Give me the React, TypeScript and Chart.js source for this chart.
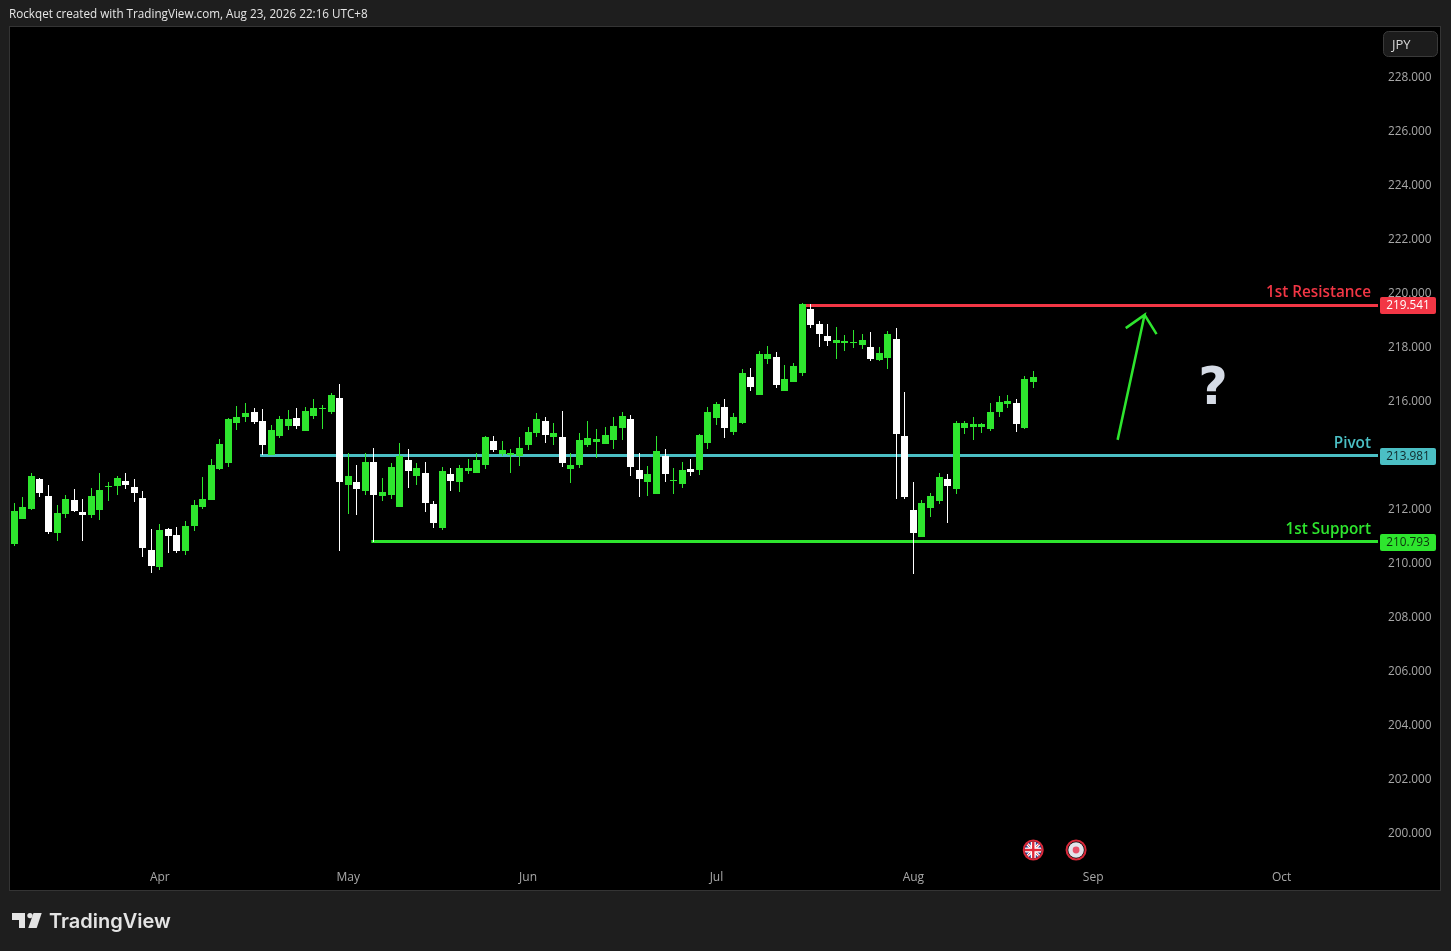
import React, { useEffect, useRef } from "react";
import { Chart, registerables } from "chart.js";

Chart.register(...registerables);

const opens = [210.71,211.63,212.00,213.11,212.48,211.11,211.82,212.34,211.89,211.78,211.97,212.82,212.85,213.04,212.82,212.41,210.48,209.85,211.26,211.04,210.45,211.37,212.07,212.34,213.48,213.71,215.19,215.41,215.60,215.26,214.00,214.71,215.08,215.37,214.89,215.45,215.71,215.60,216.11,
212.89,213.00,212.67,213.74,212.48,212.52,212.07,213.82,213.22,213.34,212.19,211.30,213.30,213.00,213.41,213.34,213.63,214.52,214.04,214.00,213.96,214.37,214.82,215.26,214.67,214.67,213.48,213.63,214.37,214.48,214.41,214.56,215.00,215.34,213.45,213.00,212.56,213.96,
213.04,212.93,213.49,213.45,214.45,215.37,215.78,214.86,215.19,216.89,216.23,217.56,217.63,216.37,216.71,217.04,219.41,218.86,218.41,218.15,218.15,218.15,218.08,218.00,217.52,217.60,218.30,
214.71,211.96,210.96,212.04,212.30,213.11,212.74,215.00,215.04,215.04,214.96,215.59,215.89,215.93,215.00,216.70];
const highs = [212.22,212.45,213.34,213.15,212.89,212.15,212.52,212.74,212.37,212.78,213.34,213.00,213.22,213.34,213.11,212.67,211.26,211.45,211.30,211.34,211.56,212.34,213.19,213.85,214.59,215.37,215.82,215.93,215.74,215.71,215.11,215.45,215.67,215.74,215.78,216.08,215.85,216.30,216.63,
214.08,213.63,214.08,214.26,213.15,213.71,214.45,214.22,213.71,213.74,212.30,213.56,213.52,213.63,213.85,214.08,214.71,214.71,214.52,214.22,214.67,215.04,215.56,215.41,215.19,215.63,214.08,214.82,215.26,214.96,215.04,215.41,215.60,215.48,214.08,213.59,214.71,214.22,
213.52,213.74,213.86,214.78,215.78,215.97,216.08,215.56,217.19,217.23,217.86,218.04,217.82,217.34,217.41,219.63,219.60,218.97,218.86,218.74,218.45,218.63,218.49,218.56,218.00,218.60,218.71,
216.33,213.00,212.33,212.59,213.33,213.30,215.26,215.26,215.41,215.19,215.93,216.19,216.22,216.08,216.93,217.11];
const lows = [210.64,211.63,211.97,212.45,211.08,210.82,211.67,211.89,210.82,211.67,211.59,212.30,212.52,212.74,212.26,210.22,209.63,209.74,210.37,210.37,210.30,211.19,212.00,212.34,213.45,213.56,214.93,215.22,215.15,214.00,214.00,214.63,214.93,214.96,214.89,215.34,214.96,215.52,210.45,
211.82,211.78,212.52,210.78,212.30,212.37,212.07,212.78,212.89,211.89,211.30,211.22,212.67,212.63,213.30,213.34,213.48,214.11,213.96,213.34,213.59,214.19,214.67,214.45,214.37,213.56,212.96,213.52,214.30,213.89,214.41,214.22,214.56,213.22,212.45,212.48,212.56,213.00,
212.56,212.78,213.23,213.26,214.23,215.11,214.63,214.74,215.15,216.37,216.23,217.37,216.49,216.37,216.71,216.93,218.71,218.00,218.04,217.56,217.86,217.97,217.93,217.49,217.49,217.19,212.37,
212.37,209.59,210.96,211.70,212.19,211.48,212.56,214.78,214.56,214.82,214.89,215.41,215.74,214.85,214.96,216.48];
const closes = [211.93,212.07,213.22,212.60,211.15,211.85,212.37,211.93,211.78,212.48,212.71,212.85,213.15,212.89,212.60,210.56,209.89,211.22,211.00,210.45,211.37,212.15,212.37,213.63,214.41,215.34,215.41,215.56,215.22,214.37,214.93,215.34,215.34,215.08,215.63,215.74,215.74,216.22,213.00,
213.22,212.74,213.74,212.52,212.63,213.56,213.96,213.41,213.52,212.22,211.48,213.41,213.04,213.52,213.52,213.82,214.67,214.19,214.19,214.08,214.26,214.85,215.34,214.74,214.82,213.71,213.63,214.56,214.63,214.59,214.74,215.08,215.45,213.56,213.11,213.30,214.15,213.30,
213.08,213.45,213.37,214.74,215.60,215.89,215.00,215.41,217.04,216.52,217.74,217.74,216.60,216.82,217.30,219.60,218.82,218.49,218.23,218.26,218.23,218.19,218.26,217.56,217.78,218.49,214.78,
212.45,211.11,212.22,212.48,213.19,212.85,215.19,215.19,215.15,215.15,215.59,215.96,216.00,215.15,216.82,216.89];

const yTicks = [200,202,204,206,208,210,212,214,216,218,220,222,224,226,228];
const monthNames = ["Apr","May","Jun","Jul","Aug","Sep","Oct"];
const monthBars = [17,39,60,82,105,126,148];

const X_MIN = -0.5, X_MAX = 159.26, Y_MIN = 198.852, Y_MAX = 229.852;

const levelNames = ["1st Resistance","Pivot","1st Support"];
const levelPrices = [219.541,213.981,210.793];
const levelStarts = [92.1,28.7,41.7];
const levelColors = ["#f23645","#4bbfc4","#2ee52e"];
const levelTagText = ["#ffffff","#10282a","#0c300c"];

const arrowBars = [128.85,132.0,129.8,132.0,133.4];
const arrowPrices = [214.56,219.19,218.70,219.19,218.48];
const questionBar = 140, questionPrice = 216.37;
const eventBars = [119,124];
const eventPrice = 199.37;

const GREEN = "#2ee52e", WHITE = "#ffffff";
const UI = '"Open Sans", "Liberation Sans", sans-serif';
const bars = opens.map((_, i) => i);
const candleColors = opens.map((o, i) => (closes[i] >= o ? GREEN : WHITE));

function roundRect(c: CanvasRenderingContext2D, x: number, y: number, w: number, h: number, r: number) {
  c.beginPath();
  c.roundRect(x, y, w, h, r);
}

function drawUK(c: CanvasRenderingContext2D, x: number, y: number) {
  const r = 8.5;
  c.save();
  c.beginPath(); c.arc(x, y, r, 0, Math.PI * 2); c.clip();
  c.fillStyle = "#2a3f8f"; c.fillRect(x - r, y - r, 2 * r, 2 * r);
  c.strokeStyle = "#ffffff"; c.lineWidth = 3;
  c.beginPath(); c.moveTo(x - r, y - r); c.lineTo(x + r, y + r); c.moveTo(x + r, y - r); c.lineTo(x - r, y + r); c.stroke();
  c.strokeStyle = "#e0283a"; c.lineWidth = 1;
  c.beginPath(); c.moveTo(x - r, y - r); c.lineTo(x + r, y + r); c.moveTo(x + r, y - r); c.lineTo(x - r, y + r); c.stroke();
  c.fillStyle = "#ffffff"; c.fillRect(x - r, y - 2.5, 2 * r, 5); c.fillRect(x - 2.5, y - r, 5, 2 * r);
  c.fillStyle = "#e0283a"; c.fillRect(x - r, y - 1.2, 2 * r, 2.4); c.fillRect(x - 1.2, y - r, 2.4, 2 * r);
  c.restore();
  c.strokeStyle = "#d8283a"; c.lineWidth = 2;
  c.beginPath(); c.arc(x, y, 9.5, 0, Math.PI * 2); c.stroke();
}

function drawJP(c: CanvasRenderingContext2D, x: number, y: number) {
  c.fillStyle = "#e2e2ea";
  c.beginPath(); c.arc(x, y, 7.8, 0, Math.PI * 2); c.fill();
  c.fillStyle = "#e8506a";
  c.beginPath(); c.arc(x, y, 3.4, 0, Math.PI * 2); c.fill();
  c.strokeStyle = "#d8283a"; c.lineWidth = 2;
  c.beginPath(); c.arc(x, y, 9.5, 0, Math.PI * 2); c.stroke();
}

const snapPlugin = {
  id: "snap",
  afterDatasetsUpdate(chart: any) {
    [0, 1].forEach((d) => {
      chart.getDatasetMeta(d).data.forEach((el: any) => {
        el.x = Math.floor(el.x) + 0.5;
        const top = Math.round(Math.min(el.y, el.base));
        let bot = Math.round(Math.max(el.y, el.base));
        if (bot - top < 1) bot = top + 1;
        el.y = top; el.base = bot; el.height = bot - top;
      });
    });
  },
};

const framePlugin = {
  id: "frame",
  beforeDraw(chart: any) {
    const c: CanvasRenderingContext2D = chart.ctx;
    c.save();
    c.fillStyle = "#1e1e1e";
    c.fillRect(0, 0, chart.width, chart.height);
    c.fillStyle = "#000000";
    c.fillRect(10, 27, 1430, 863);
    c.strokeStyle = "#343434"; c.lineWidth = 1;
    c.strokeRect(9.5, 26.5, 1431, 864);

    c.textBaseline = "alphabetic"; c.textAlign = "left";
    c.fillStyle = "#e6e6e6";
    c.font = `11.7px ${UI}`;
    c.fillText("Rockqet created with TradingView.com, Aug 23, 2026 22:16 UTC+8", 9, 18);

    c.fillStyle = "#e4e4e4";
    c.beginPath();
    c.moveTo(12, 913); c.lineTo(25, 913); c.lineTo(25, 928); c.lineTo(19, 928); c.lineTo(19, 920); c.lineTo(12, 920);
    c.closePath(); c.fill();
    c.beginPath(); c.arc(30, 915.6, 2.7, 0, Math.PI * 2); c.fill();
    c.beginPath();
    c.moveTo(33.5, 913); c.lineTo(41.7, 913); c.lineTo(36.7, 928); c.lineTo(28.3, 928);
    c.closePath(); c.fill();
    c.font = '600 20px Inter, sans-serif';
    c.fillText("TradingView", 49, 928);
    c.restore();
  },
  afterDraw(chart: any) {
    const c: CanvasRenderingContext2D = chart.ctx;
    const x = chart.scales.x, y = chart.scales.y;
    c.save();
    levelNames.forEach((name, i) => {
      const py = y.getPixelForValue(levelPrices[i]);
      c.fillStyle = levelColors[i];
      c.font = `600 15.3px ${UI}`;
      c.textAlign = "right"; c.textBaseline = "alphabetic";
      c.fillText(name, 1371, py - 8);
      c.fillStyle = levelColors[i];
      roundRect(c, 1380, Math.round(py) - 8, 56, 17, 2);
      c.fill();
      c.fillStyle = levelTagText[i];
      c.font = `11.8px ${UI}`;
      c.textAlign = "center"; c.textBaseline = "middle";
      c.fillText(levelPrices[i].toFixed(3), 1408, Math.round(py) + 1);
    });

    c.fillStyle = "#d5dbe5";
    c.font = 'bold 51px "DejaVu Sans", sans-serif';
    c.textAlign = "center"; c.textBaseline = "middle";
    c.fillText("?", x.getPixelForValue(questionBar), y.getPixelForValue(questionPrice));

    const ey = y.getPixelForValue(eventPrice);
    drawUK(c, x.getPixelForValue(eventBars[0]), ey);
    drawJP(c, x.getPixelForValue(eventBars[1]), ey);

    c.strokeStyle = "#3a3a3a"; c.lineWidth = 1; c.fillStyle = "#1c1c1c";
    roundRect(c, 1383.5, 31.5, 54, 25, 5);
    c.fill(); c.stroke();
    c.fillStyle = "#d8d8d8";
    c.font = `13px ${UI}`;
    c.textAlign = "left"; c.textBaseline = "middle";
    c.fillText("JPY", 1392, 45);
    c.restore();
  },
};

export default function App() {
  const ref = useRef<HTMLCanvasElement>(null);
  useEffect(() => {
    document.body.style.margin = "0";
    document.body.style.background = "#1e1e1e";
    const levelSets = levelNames.map((name, i) => ({
      type: "line" as const,
      label: name,
      data: [{ x: levelStarts[i], y: levelPrices[i] }, { x: X_MAX, y: levelPrices[i] }],
      borderColor: levelColors[i],
      borderWidth: 3,
      pointRadius: 0,
      order: 3,
    }));
    const chart = new Chart(ref.current!, {
      type: "bar",
      data: {
        datasets: [
          {
            label: "body",
            data: bars.map((i) => ({ x: i, y: [opens[i], closes[i]] })),
            backgroundColor: candleColors,
            barThickness: 7,
            inflateAmount: 0,
            grouped: false,
            order: 1,
          },
          {
            label: "wick",
            data: bars.map((i) => ({ x: i, y: [lows[i], highs[i]] })),
            backgroundColor: candleColors,
            barThickness: 1,
            inflateAmount: 0,
            grouped: false,
            order: 2,
          },
          ...levelSets,
          {
            type: "line" as const,
            label: "arrow",
            data: arrowBars.map((b, i) => ({ x: b, y: arrowPrices[i] })),
            borderColor: GREEN,
            borderWidth: 2.5,
            pointRadius: 0,
            order: 3,
          },
        ] as any,
      },
      options: {
        animation: false,
        responsive: false,
        devicePixelRatio: 1,
        layout: { padding: { top: 27, left: 10, right: 11, bottom: 61 } },
        plugins: { legend: { display: false }, tooltip: { enabled: false }, title: { display: false } },
        scales: {
          x: {
            type: "linear",
            offset: false,
            min: X_MIN,
            max: X_MAX,
            grid: { display: false, drawTicks: false },
            border: { display: false },
            afterBuildTicks: (s: any) => { s.ticks = monthBars.map((v) => ({ value: v })); },
            afterFit: (s: any) => { s.height = 26; },
            ticks: {
              autoSkip: false,
              maxRotation: 0,
              color: "#a8a8a8",
              padding: 6,
              font: { size: 12, family: UI },
              callback: (v: any) => monthNames[monthBars.indexOf(Number(v))] ?? "",
            },
          },
          y: {
            type: "linear",
            position: "right",
            min: Y_MIN,
            max: Y_MAX,
            grid: { display: false, drawTicks: false },
            border: { display: false },
            afterBuildTicks: (s: any) => { s.ticks = yTicks.map((v) => ({ value: v })); },
            afterFit: (s: any) => { s.width = 62; },
            ticks: {
              autoSkip: false,
              color: "#a8a8a8",
              padding: 10,
              labelOffset: 1,
              font: { size: 11.8, family: UI },
              callback: (v: any) => Number(v).toFixed(3),
            },
          },
        },
      },
      plugins: [snapPlugin, framePlugin],
    } as any);
    return () => chart.destroy();
  }, []);
  return <canvas ref={ref} width={1451} height={951} style={{ display: "block" }} />;
}
